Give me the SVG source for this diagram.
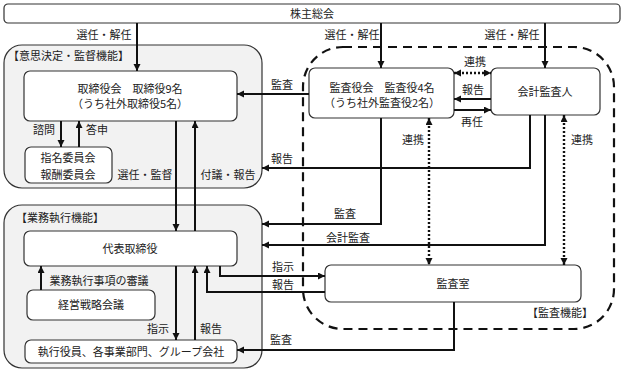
<svg xmlns="http://www.w3.org/2000/svg" width="624" height="374" viewBox="0 0 624 374">
<style>
text{font-family:"Noto Sans CJK JP","Noto Sans",sans-serif;font-size:11px;fill:#222}
.m{text-anchor:middle}
.area{fill:#f2f2f2;stroke:#333;stroke-width:1.2}
.box{fill:#fff;stroke:#333;stroke-width:1.2}
.ln{fill:none;stroke:#111;stroke-width:2}
.dot{fill:none;stroke:#111;stroke-width:2.4;stroke-dasharray:2 2}
.dash{fill:none;stroke:#111;stroke-width:2.2;stroke-dasharray:9 6}
</style>
<defs>
<marker id="a" markerUnits="userSpaceOnUse" markerWidth="8" markerHeight="8" refX="7" refY="3.5" orient="auto-start-reverse"><path d="M0,0 L7,3.5 L0,7 z" fill="#111"/></marker>
</defs>
<g id="shareholders"><rect class="box" x="4" y="4" width="616" height="19" rx="4"/><text class="m" x="312" y="17.5">株主総会</text></g>
<g id="area-decision"><rect class="area" x="4" y="45" width="258" height="143" rx="18"/><text x="8" y="60">【意思決定・監督機能】</text></g>
<g id="area-exec"><rect class="area" x="4" y="205" width="258" height="163" rx="18"/><text x="16" y="222">【業務執行機能】</text></g>
<g id="area-audit"><rect class="dash" x="303" y="47" width="311" height="282" rx="40"/><text class="m" x="560" y="317">【監査機能】</text></g>
<g id="board"><rect class="box" x="24" y="71" width="213" height="50" rx="6"/><text class="m" x="130" y="93">取締役会　取締役9名</text><text class="m" x="130" y="108">（うち社外取締役5名）</text></g>
<g id="committees"><rect class="box" x="25" y="147" width="87" height="36" rx="6"/><text class="m" x="68" y="162">指名委員会</text><text class="m" x="68" y="179">報酬委員会</text></g>
<g id="president"><rect class="box" x="24" y="231" width="213" height="35" rx="6"/><text class="m" x="130" y="253">代表取締役</text></g>
<g id="strategy"><rect class="box" x="27" y="290" width="128" height="30" rx="6"/><text class="m" x="91" y="309">経営戦略会議</text></g>
<g id="officers"><rect class="box" x="25" y="340" width="212" height="23" rx="6"/><text class="m" x="131" y="356">執行役員、各事業部門、グループ会社</text></g>
<g id="auditors"><rect class="box" x="309" y="68" width="145" height="50" rx="6"/><text class="m" x="382" y="92">監査役会　監査役4名</text><text class="m" x="382" y="107">（うち社外監査役2名）</text></g>
<g id="accounting-auditor"><rect class="box" x="491" y="68" width="109" height="47" rx="6"/><text class="m" x="545" y="96">会計監査人</text></g>
<g id="audit-office"><rect class="box" x="325" y="265" width="256" height="37" rx="6"/><text class="m" x="453" y="288">監査室</text></g>
<g id="connectors">
<path class="ln" d="M137,23 V71" marker-end="url(#a)"/>
<path class="ln" d="M381,23 V68" marker-end="url(#a)"/>
<path class="ln" d="M545,23 V68" marker-end="url(#a)"/>
<path class="ln" d="M61,121 V147" marker-end="url(#a)"/>
<path class="ln" d="M79,147 V121" marker-end="url(#a)"/>
<path class="ln" d="M176,121 V231" marker-end="url(#a)"/>
<path class="ln" d="M195,231 V121" marker-end="url(#a)"/>
<path class="ln" d="M41,290 V266" marker-end="url(#a)"/>
<path class="ln" d="M176,266 V340" marker-end="url(#a)"/>
<path class="ln" d="M195,340 V266" marker-end="url(#a)"/>
<path class="ln" d="M220,266 V276 H325" marker-end="url(#a)"/>
<path class="ln" d="M325,292 H207 V266" marker-end="url(#a)"/>
<path class="ln" d="M454,302 V350 H237" marker-end="url(#a)"/>
<path class="ln" d="M309,94 H237" marker-end="url(#a)"/>
<path class="ln" d="M530,115 V168 H262" marker-end="url(#a)"/>
<path class="ln" d="M381,118 V224 H262" marker-end="url(#a)"/>
<path class="ln" d="M545,115 V245 H262" marker-end="url(#a)"/>
<path class="ln" d="M491,99 H454" marker-end="url(#a)"/>
<path class="ln" d="M454,110 H491" marker-end="url(#a)"/>
<path class="dot" d="M454,73 H491" marker-start="url(#a)" marker-end="url(#a)"/>
<path class="dot" d="M429,118 V265" marker-start="url(#a)" marker-end="url(#a)"/>
<path class="dot" d="M564,115 V265" marker-start="url(#a)" marker-end="url(#a)"/>
<text class="m" x="104" y="39">選任・解任</text>
<text class="m" x="352" y="39">選任・解任</text>
<text class="m" x="512" y="39">選任・解任</text>
<text class="m" x="44" y="134">諮問</text>
<text class="m" x="97" y="134">答申</text>
<text class="m" x="145" y="179">選任・監督</text>
<text class="m" x="228" y="179">付議・報告</text>
<text class="m" x="282" y="89">監査</text>
<text class="m" x="282" y="163">報告</text>
<text class="m" x="475" y="66">連携</text>
<text class="m" x="473" y="94">報告</text>
<text class="m" x="472" y="126">再任</text>
<text class="m" x="413" y="144">連携</text>
<text class="m" x="582" y="144">連携</text>
<text class="m" x="345" y="218">監査</text>
<text class="m" x="348" y="242">会計監査</text>
<text class="m" x="99" y="285">業務執行事項の審議</text>
<text class="m" x="158" y="333">指示</text>
<text class="m" x="211" y="333">報告</text>
<text class="m" x="283" y="271">指示</text>
<text class="m" x="283" y="289">報告</text>
<text class="m" x="281" y="344">監査</text>
</g>
</svg>
